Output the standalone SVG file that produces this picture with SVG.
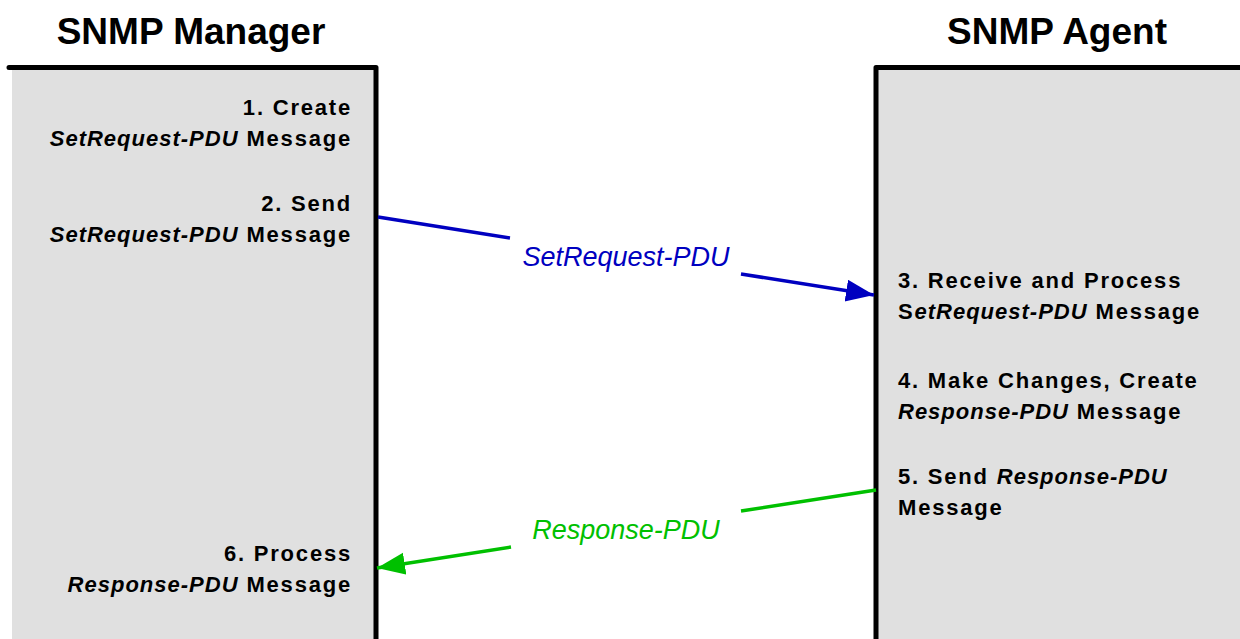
<svg xmlns="http://www.w3.org/2000/svg" width="1240" height="639" viewBox="0 0 1240 639">
<style>
.title{font-family:"Liberation Sans",Arial,sans-serif;font-weight:bold;font-size:37px;fill:#000;text-anchor:middle}
.step{font-family:"Liberation Sans",Arial,sans-serif;font-weight:bold;font-size:22px;fill:#000;letter-spacing:1.8px}
.step .i{font-style:italic;letter-spacing:1px}
.left{text-anchor:end}
.panel{fill:#e0e0e0}
.border{fill:none;stroke:#000;stroke-width:5;stroke-linecap:round;stroke-linejoin:round}
.lbl{font-family:"Liberation Sans",Arial,sans-serif;font-style:italic;font-size:27px;text-anchor:middle}
.req{stroke:#0000c0;stroke-width:3.5;fill:none}
.resp{stroke:#00c000;stroke-width:3.5;fill:none}
</style>
<defs>
<marker id="ahB" markerUnits="userSpaceOnUse" markerWidth="30" markerHeight="24" refX="28" refY="11" orient="auto"><path d="M0,0 L28,11 L0,22 z" fill="#0000c0"/></marker>
<marker id="ahG" markerUnits="userSpaceOnUse" markerWidth="30" markerHeight="24" refX="28" refY="11" orient="auto"><path d="M0,0 L28,11 L0,22 z" fill="#00c000"/></marker>
</defs>
<rect width="1240" height="639" fill="#fff"/>
<g id="manager">
<rect class="panel" x="12" y="67" width="364" height="575"/>
<path class="border" d="M9,67.5 H376 V645"/>
<text class="title" x="191" y="44">SNMP Manager</text>
<text class="step left" x="352" y="115">1. Create</text>
<text class="step left" x="352" y="146"><tspan class="i">SetRequest-PDU</tspan> Message</text>
<text class="step left" x="352" y="211">2. Send</text>
<text class="step left" x="352" y="242"><tspan class="i">SetRequest-PDU</tspan> Message</text>
<text class="step left" x="352" y="561">6. Process</text>
<text class="step left" x="352" y="592"><tspan class="i">Response-PDU</tspan> Message</text>
</g>
<g id="agent">
<rect class="panel" x="876" y="67" width="370" height="575"/>
<path class="border" d="M876,645 V67.5 H1245"/>
<text class="title" x="1057" y="44">SNMP Agent</text>
<text class="step" x="898" y="288">3. Receive and Process</text>
<text class="step" x="898" y="319">S<tspan class="i">etRequest-PDU</tspan> Message</text>
<text class="step" x="898" y="388">4. Make Changes, Create</text>
<text class="step" x="898" y="419"><tspan class="i">Response-PDU</tspan> Message</text>
<text class="step" x="898" y="484">5. Send <tspan class="i">Response-PDU</tspan></text>
<text class="step" x="898" y="515">Message</text>
</g>
<g id="connectors">
<line class="req" x1="378" y1="217" x2="510" y2="238"/>
<line class="req" x1="741" y1="274" x2="874" y2="295" marker-end="url(#ahB)"/>
<text class="lbl" x="626" y="266" fill="#0000c0">SetRequest-PDU</text>
<line class="resp" x1="876" y1="490" x2="741" y2="511"/>
<line class="resp" x1="511" y1="547" x2="377" y2="568" marker-end="url(#ahG)"/>
<text class="lbl" x="626" y="539" fill="#00c000">Response-PDU</text>
</g>
</svg>
